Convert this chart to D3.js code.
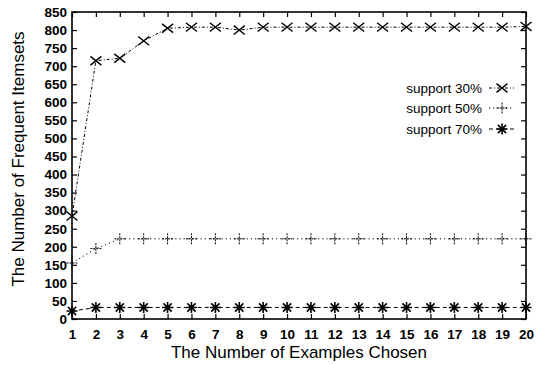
<!DOCTYPE html>
<html><head><meta charset="utf-8">
<script src="https://cdn.jsdelivr.net/npm/d3@7"></script>
<style>body{margin:0;background:#fff}svg{display:block}text{font-family:"Liberation Sans",Arial,sans-serif;fill:#000}</style>
</head><body>
<svg id="c" width="539" height="365"></svg>
<script>
const examples = d3.range(1, 21);
const support30 = [285,715,722,770,805,808,808,800,808,808,808,808,808,808,808,808,808,808,808,810];
const support50 = [155,195,222,222,222,222,222,222,222,222,222,222,222,222,222,222,222,222,222,222];
const support70 = [22,32,32,32,32,32,32,32,32,32,32,32,32,32,32,32,32,32,32,32];
const yTicks = d3.range(0, 851, 50);
const seriesNames = ["support 30%","support 50%","support 70%"];

const svg = d3.select("#c");
const L=72,R=526,T=12,B=319;
const x = d3.scaleLinear().domain([1,20]).range([L,R]);
const y = d3.scaleLinear().domain([0,850]).range([B,T]);

svg.append("rect").attr("x",L).attr("y",T).attr("width",R-L).attr("height",B-T)
  .attr("fill","none").attr("stroke","#000").attr("stroke-width",1.6);

svg.append("g").attr("transform",`translate(0,${B})`)
  .call(d3.axisBottom(x).tickValues(examples).tickFormat(d3.format("d")).tickSizeInner(-5).tickSizeOuter(0).tickPadding(10));
svg.append("g").attr("transform",`translate(${L},0)`)
  .call(d3.axisLeft(y).tickValues(yTicks).tickSizeInner(-5).tickSizeOuter(0).tickPadding(5));
svg.append("g").attr("transform",`translate(0,${T})`)
  .call(d3.axisTop(x).tickValues(examples).tickFormat("").tickSizeInner(-5).tickSizeOuter(0));
svg.append("g").attr("transform",`translate(${R},0)`)
  .call(d3.axisRight(y).tickValues(yTicks).tickFormat("").tickSizeInner(-5).tickSizeOuter(0));
svg.selectAll(".domain").remove();
svg.selectAll(".tick line").attr("stroke","#000").attr("stroke-width",1.2);
svg.selectAll(".tick text").attr("font-size",13.5).attr("font-weight","bold")
  .style("font-family",'"Liberation Sans",Arial,sans-serif').attr("fill","#000");

svg.append("text").attr("x",299).attr("y",358).attr("text-anchor","middle")
  .attr("font-size",17).text("The Number of Examples Chosen");
svg.append("text").attr("transform","translate(24,159) rotate(-90)").attr("text-anchor","middle")
  .attr("font-size",17).text("The Number of Frequent Itemsets");

const dashes = ["3,2,1,2","1.2,3","4,3"];
const datas = [support30,support50,support70];

function marker(g,type,cx,cy){
  const s=5.5;
  if(type===0){
    g.append("path").attr("d",`M${cx-s},${cy-s*0.8}L${cx+s},${cy+s*0.8}M${cx-s},${cy+s*0.8}L${cx+s},${cy-s*0.8}`)
      .attr("stroke","#000").attr("stroke-width",1.4).attr("fill","none");
  } else if(type===1){
    g.append("path").attr("d",`M${cx-s},${cy}L${cx+s},${cy}M${cx},${cy-s}L${cx},${cy+s}`)
      .attr("stroke","#000").attr("stroke-width",1).attr("stroke-dasharray","2,1").attr("fill","none");
  } else {
    g.append("path").attr("d",`M${cx-s},${cy}L${cx+s},${cy}M${cx},${cy-s}L${cx},${cy+s}M${cx-s*0.75},${cy-s*0.75}L${cx+s*0.75},${cy+s*0.75}M${cx-s*0.75},${cy+s*0.75}L${cx+s*0.75},${cy-s*0.75}`)
      .attr("stroke","#000").attr("stroke-width",1.6).attr("fill","none");
  }
}

const line = d3.line().x((d,i)=>x(examples[i])).y(d=>y(d));
datas.forEach((arr,k)=>{
  const g = svg.append("g");
  g.append("path").attr("d",line(arr)).attr("fill","none").attr("stroke","#000")
    .attr("stroke-width",1).attr("stroke-dasharray",dashes[k]);
  arr.forEach((v,i)=>marker(g,k,x(examples[i]),y(v)));
});

const ly=[88,108,129];
seriesNames.forEach((n,k)=>{
  const g=svg.append("g");
  g.append("text").attr("x",482).attr("y",ly[k]+5).attr("text-anchor","end").attr("font-size",13.5).text(n);
  g.append("line").attr("x1",489).attr("x2",514).attr("y1",ly[k]).attr("y2",ly[k])
    .attr("stroke","#000").attr("stroke-width",1).attr("stroke-dasharray",dashes[k]);
  marker(g,k,502,ly[k]);
});
</script>
</body></html>
